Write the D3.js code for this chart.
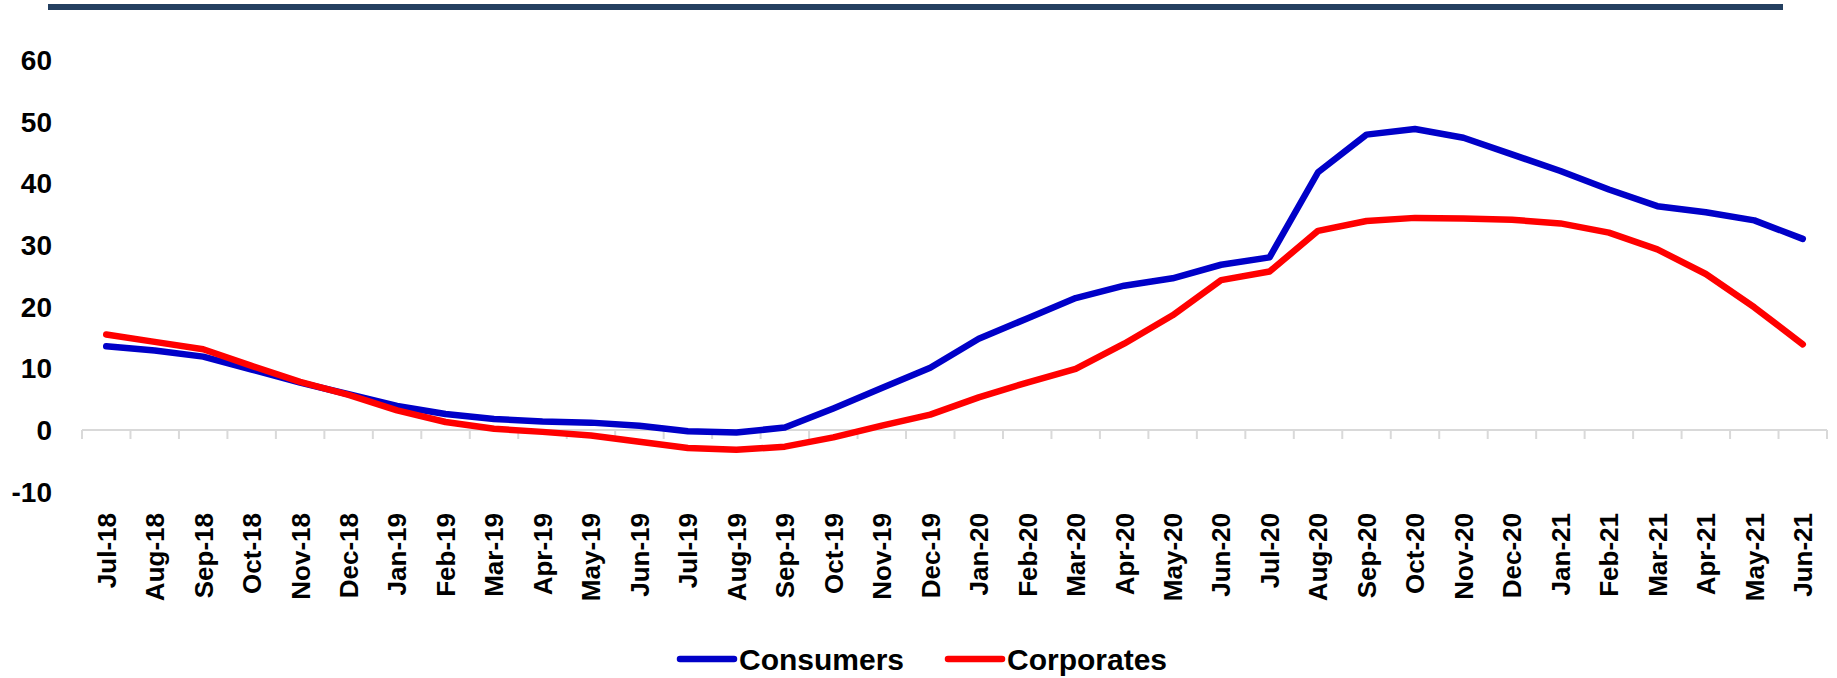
<!DOCTYPE html>
<html>
<head>
<meta charset="utf-8">
<script src="https://cdn.jsdelivr.net/npm/d3@7"></script>
<style>
  body { margin: 0; background: #fff; overflow: hidden; }
  svg { display: block; }
  svg text { font-family: "Liberation Sans", Arial, sans-serif; font-weight: bold; fill: #000; }
</style>
</head>
<body>
<div id="container"></div>
<script>
/**
 * DATA
 * */
const months = ['Jul-18','Aug-18','Sep-18','Oct-18','Nov-18','Dec-18',
  'Jan-19','Feb-19','Mar-19','Apr-19','May-19','Jun-19','Jul-19','Aug-19','Sep-19','Oct-19','Nov-19','Dec-19',
  'Jan-20','Feb-20','Mar-20','Apr-20','May-20','Jun-20','Jul-20','Aug-20','Sep-20','Oct-20','Nov-20','Dec-20',
  'Jan-21','Feb-21','Mar-21','Apr-21','May-21','Jun-21'];

const consumers = [13.6, 12.9, 11.9, 9.8, 7.7, 5.8,
  3.9, 2.6, 1.8, 1.4, 1.2, 0.7, -0.2, -0.4, 0.4, 3.5, 6.8, 10.1,
  14.8, 18.1, 21.4, 23.4, 24.6, 26.8, 28.0, 41.8, 47.9, 48.8, 47.4, 44.7,
  42.0, 39.0, 36.3, 35.3, 34.0, 31.0];

const corporates = [15.5, 14.3, 13.1, 10.4, 7.8, 5.7,
  3.2, 1.3, 0.2, -0.3, -0.9, -1.9, -2.9, -3.2, -2.7, -1.2, 0.7, 2.5,
  5.3, 7.7, 9.9, 14.0, 18.6, 24.3, 25.7, 32.3, 33.9, 34.4, 34.3, 34.1,
  33.5, 32.0, 29.3, 25.3, 19.9, 13.9];

const yTicks = [-10, 0, 10, 20, 30, 40, 50, 60];

const seriesNames = ['Consumers', 'Corporates'];
const seriesColors = ['#0000c8', '#ff0000'];

/**
 * CONSTANTS
 * */
const width = 1837,
  height = 678;

const svg = d3.select('#container')
  .append('svg')
  .attr('width', width)
  .attr('height', height);

// dark band across the top
svg.append('rect')
  .attr('x', 48).attr('y', 4)
  .attr('width', 1735).attr('height', 6)
  .attr('fill', '#243f60');

// scales
const x = d3.scaleBand()
  .domain(months)
  .range([82, 1827]);

const y = d3.scaleLinear()
  .domain([-10, 60])
  .range([491.7, 60]);

const cx = d => x(d) + x.bandwidth() / 2;

// y labels (no axis line, no gridlines)
svg.selectAll('.ylab')
  .data(yTicks)
  .join('text')
  .attr('class', 'ylab')
  .attr('x', 52)
  .attr('y', d => y(d))
  .attr('dy', '0.36em')
  .attr('text-anchor', 'end')
  .style('font-size', '28px')
  .text(d => d);

// x axis at zero
const xAxis = svg.append('g')
  .attr('transform', `translate(0,${y(0)})`);

xAxis.append('line')
  .attr('x1', 82).attr('x2', 1827)
  .attr('stroke', '#d9d9d9')
  .attr('stroke-width', 2);

xAxis.selectAll('.tick')
  .data(months.concat(['end']))
  .join('line')
  .attr('class', 'tick')
  .attr('x1', (d, i) => i < months.length ? x(d) : x.range()[1])
  .attr('x2', (d, i) => i < months.length ? x(d) : x.range()[1])
  .attr('y1', 0).attr('y2', 9)
  .attr('stroke', '#d9d9d9')
  .attr('stroke-width', 2);

// rotated month labels
svg.selectAll('.xlab')
  .data(months)
  .join('text')
  .attr('class', 'xlab')
  .attr('transform', d => `translate(${cx(d)},513) rotate(-90)`)
  .attr('dy', '0.36em')
  .attr('text-anchor', 'end')
  .style('font-size', '26px')
  .text(d => d);

// lines
const line = d3.line()
  .x((d, i) => cx(months[i]))
  .y(d => y(d));

[consumers, corporates].forEach((vals, k) => {
  svg.append('path')
    .datum(vals)
    .attr('d', line)
    .attr('fill', 'none')
    .attr('stroke', seriesColors[k])
    .attr('stroke-width', 6.5)
    .attr('stroke-linejoin', 'round')
    .attr('stroke-linecap', 'round');
});

// legend
const legendX = [680, 948];
const legend = svg.selectAll('.legend')
  .data(seriesNames)
  .join('g')
  .attr('class', 'legend')
  .attr('transform', (d, i) => `translate(${legendX[i]},659)`);

legend.append('line')
  .attr('x1', 0).attr('x2', 54)
  .attr('stroke', (d, i) => seriesColors[i])
  .attr('stroke-width', 6.5)
  .attr('stroke-linecap', 'round');

legend.append('text')
  .attr('x', 59)
  .attr('y', 11)
  .style('font-size', '30px')
  .text(d => d);
</script>
</body>
</html>
